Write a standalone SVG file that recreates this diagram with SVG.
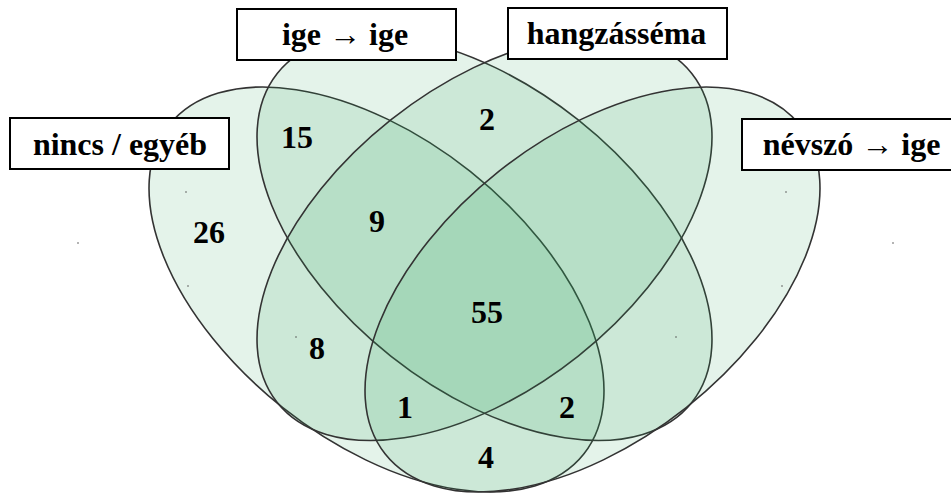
<svg xmlns="http://www.w3.org/2000/svg" width="951" height="493" viewBox="0 0 951 493">
<defs>
<style>
.set{fill:rgb(47,163,93);fill-opacity:0.13;stroke:#333;stroke-width:1.6}
text{font-family:'Liberation Serif','Times New Roman',serif;font-weight:bold;fill:#000;text-anchor:middle}
.num{font-size:32px}
.lbl{font-size:32px}
.box{fill:#fff;stroke:#000;stroke-width:2}
.dot{fill:#555}
</style>
</defs>
<rect width="951" height="493" fill="#fff"/>
<g id="sets">
<g id="set-nincs"><ellipse class="set" cx="376.5" cy="289.5" rx="264.6" ry="150.8" transform="rotate(38.43 376.5 289.5)"/></g>
<g id="set-ige-ige"><ellipse class="set" cx="484.5" cy="238" rx="264.6" ry="150.8" transform="rotate(38.43 484.5 238)"/></g>
<g id="set-hangzas"><ellipse class="set" cx="484.5" cy="238" rx="264.6" ry="150.8" transform="rotate(-38.43 484.5 238)"/></g>
<g id="set-nevszo"><ellipse class="set" cx="592.5" cy="289.5" rx="264.6" ry="150.8" transform="rotate(-38.43 592.5 289.5)"/></g>
</g>
<g id="connectors"></g>
<g id="dots">
<circle class="dot" cx="78" cy="243" r="0.8"/>
<circle class="dot" cx="186" cy="192" r="0.8"/>
<circle class="dot" cx="188" cy="286" r="0.8"/>
<circle class="dot" cx="296" cy="337" r="0.8"/>
<circle class="dot" cx="893" cy="243" r="0.8"/>
<circle class="dot" cx="786" cy="192" r="0.8"/>
<circle class="dot" cx="782" cy="286" r="0.8"/>
<circle class="dot" cx="676" cy="337" r="0.8"/>
</g>
<g id="counts">
<text class="num" x="209" y="243">26</text>
<text class="num" x="297" y="148">15</text>
<text class="num" x="377" y="232">9</text>
<text class="num" x="487" y="130">2</text>
<text class="num" x="487" y="323">55</text>
<text class="num" x="317" y="359">8</text>
<text class="num" x="405" y="418">1</text>
<text class="num" x="567" y="418">2</text>
<text class="num" x="486" y="468">4</text>
</g>
<g id="label-ige-ige"><rect class="box" x="237" y="9" width="219" height="51"/><text class="lbl" x="345" y="45">ige → ige</text></g>
<g id="label-hangzas"><rect class="box" x="508" y="8" width="219" height="51"/><text class="lbl" x="616.5" y="44">hangzásséma</text></g>
<g id="label-nincs"><rect class="box" x="10" y="118" width="219" height="51"/><text class="lbl" x="120" y="155">nincs / egyéb</text></g>
<g id="label-nevszo"><rect class="box" x="742" y="119" width="219" height="51"/><text class="lbl" x="851.5" y="155">névszó → ige</text></g>
</svg>
